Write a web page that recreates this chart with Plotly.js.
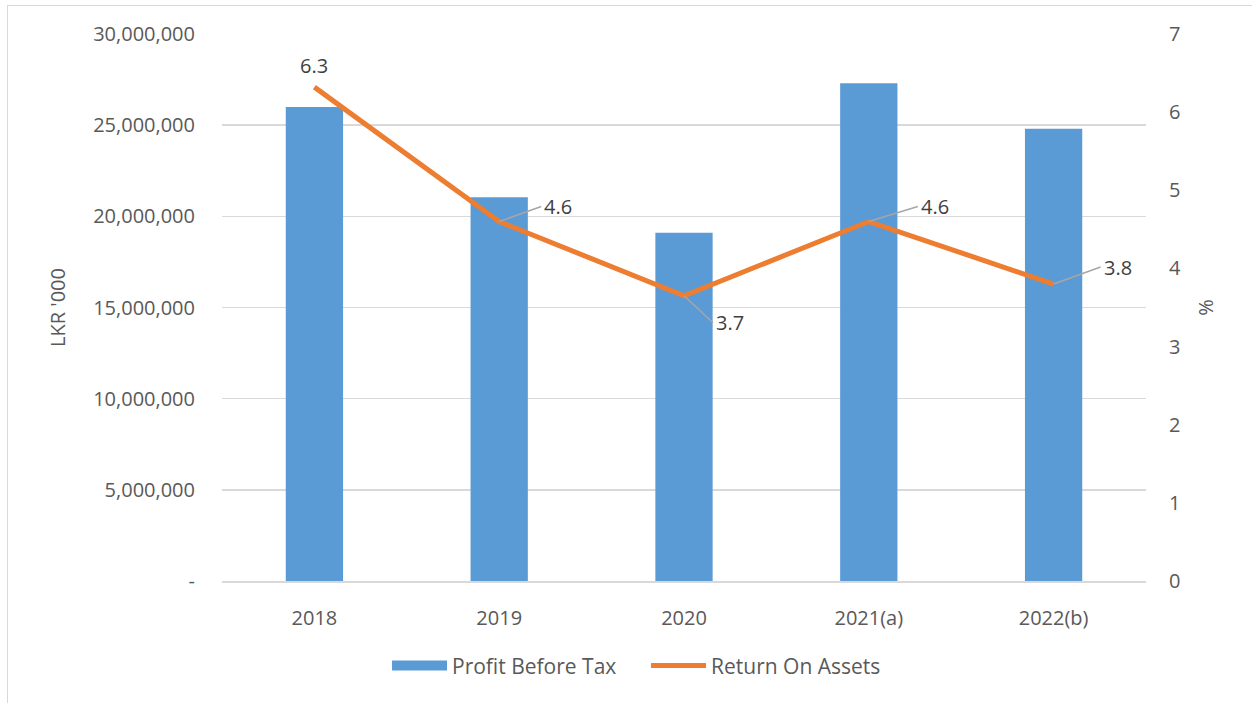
<!DOCTYPE html>
<html>
<head>
<meta charset="utf-8">
<script src="https://cdn.plot.ly/plotly-3.0.1.min.js"></script>
<style>
  html, body { margin: 0; padding: 0; background: #ffffff; overflow: hidden; }
  #frame { position: absolute; left: 7px; top: 5px; width: 1300px; height: 800px; border: 1.5px solid #d9d9d9; box-sizing: border-box; }
  #chart { position: absolute; left: 0; top: 0; width: 1252px; height: 703px; }
</style>
</head>
<body>
<div id="frame"></div>
<div id="chart"></div>
<script>
// ---- data ----
const categories = ["2018", "2019", "2020", "2021(a)", "2022(b)"];
const profitBeforeTax = [26000000, 21050000, 19100000, 27300000, 24800000];
const returnOnAssets = [6.32, 4.6, 3.65, 4.6, 3.8];
const leftTickVals = [0, 5000000, 10000000, 15000000, 20000000, 25000000, 30000000];
const leftTickText = ["-", "5,000,000", "10,000,000", "15,000,000", "20,000,000", "25,000,000", "30,000,000"];
const roaLabels = ["6.3", "4.6", "3.7", "4.6", "3.8"];

// label offsets (style only)
const labelOffsets = [
  {arrow: false, yshift: 22},
  {arrow: true, ax: 42, ay: -15},
  {arrow: true, ax: 29, ay: 27},
  {arrow: true, ax: 49, ay: -15},
  {arrow: true, ax: 47, ay: -17}
];

const textColor = "#595959";
const fontFam = "'Open Sans', 'Noto Sans', sans-serif";

const traces = [
  {
    type: "bar",
    name: "Profit Before Tax",
    x: categories,
    y: profitBeforeTax,
    marker: {color: "#5b9bd5"},
    yaxis: "y",
    showlegend: false
  },
  {
    // legend entry only (wide swatch like the reference)
    type: "scatter",
    mode: "lines",
    name: "Profit Before Tax",
    x: categories,
    y: categories.map(() => null),
    line: {color: "#5b9bd5", width: 14},
    yaxis: "y",
    showlegend: true
  },
  {
    type: "scatter",
    mode: "lines",
    name: "Return On Assets",
    x: categories,
    y: returnOnAssets,
    line: {color: "#ed7d31", width: 5},
    yaxis: "y2"
  }
];

// annotations positioned by category index on the category axis
const annotations = categories.map((c, i) => {
  const o = labelOffsets[i];
  const a = {
    x: i, y: returnOnAssets[i], xref: "x", yref: "y2",
    text: roaLabels[i],
    font: {family: fontFam, size: 20, color: "#404040"}
  };
  if (o.arrow) {
    Object.assign(a, {
      showarrow: true, arrowhead: 0, arrowwidth: 1.5, arrowcolor: "#a6a6a6",
      ax: o.ax, ay: o.ay, xanchor: "left", yanchor: "middle", borderpad: 2, standoff: 0
    });
  } else {
    Object.assign(a, {showarrow: false, yshift: o.yshift, yanchor: "middle"});
  }
  return a;
});

const layout = {
  width: 1252,
  height: 703,
  margin: {l: 222, r: 106, t: 34, b: 122},
  paper_bgcolor: "rgba(0,0,0,0)",
  plot_bgcolor: "rgba(0,0,0,0)",
  font: {family: fontFam, size: 20, color: textColor},
  bargap: 0.69,
  showlegend: true,
  legend: {
    orientation: "h",
    x: 0.1786, xanchor: "left",
    y: -0.155, yanchor: "middle",
    font: {family: fontFam, size: 21, color: textColor},
    itemwidth: 55,
    entrywidth: 189,
    entrywidthmode: "pixels",
    traceorder: "normal"
  },
  xaxis: {
    type: "category",
    categoryorder: "array",
    categoryarray: categories,
    range: [-0.5, categories.length - 0.5],
    autorange: false,
    showgrid: false,
    showline: true,
    linecolor: "#d9d9d9",
    linewidth: 1.5,
    ticks: "",
    ticklabelstandoff: 18,
    tickfont: {family: fontFam, size: 20, color: textColor},
    fixedrange: true
  },
  yaxis: {
    range: [0, 30000000],
    autorange: false,
    tickvals: leftTickVals,
    ticktext: leftTickText,
    showgrid: true,
    gridcolor: "#d9d9d9",
    gridwidth: 1.5,
    zeroline: false,
    showline: false,
    ticks: "",
    ticklabelstandoff: 26,
    tickfont: {family: fontFam, size: 20, color: textColor},
    title: {text: "LKR '000", font: {family: fontFam, size: 20, color: textColor}, standoff: 22},
    automargin: false,
    fixedrange: true
  },
  yaxis2: {
    overlaying: "y",
    side: "right",
    range: [0, 7],
    autorange: false,
    dtick: 1,
    showgrid: false,
    zeroline: false,
    showline: false,
    ticks: "",
    ticklabelstandoff: 22,
    tickfont: {family: fontFam, size: 20, color: textColor},
    title: {text: "%", font: {family: fontFam, size: 20, color: textColor}, standoff: 18},
    automargin: false,
    fixedrange: true
  },
  annotations: annotations
};

Plotly.newPlot("chart", traces, layout, {displayModeBar: false, staticPlot: true});
</script>
</body>
</html>
